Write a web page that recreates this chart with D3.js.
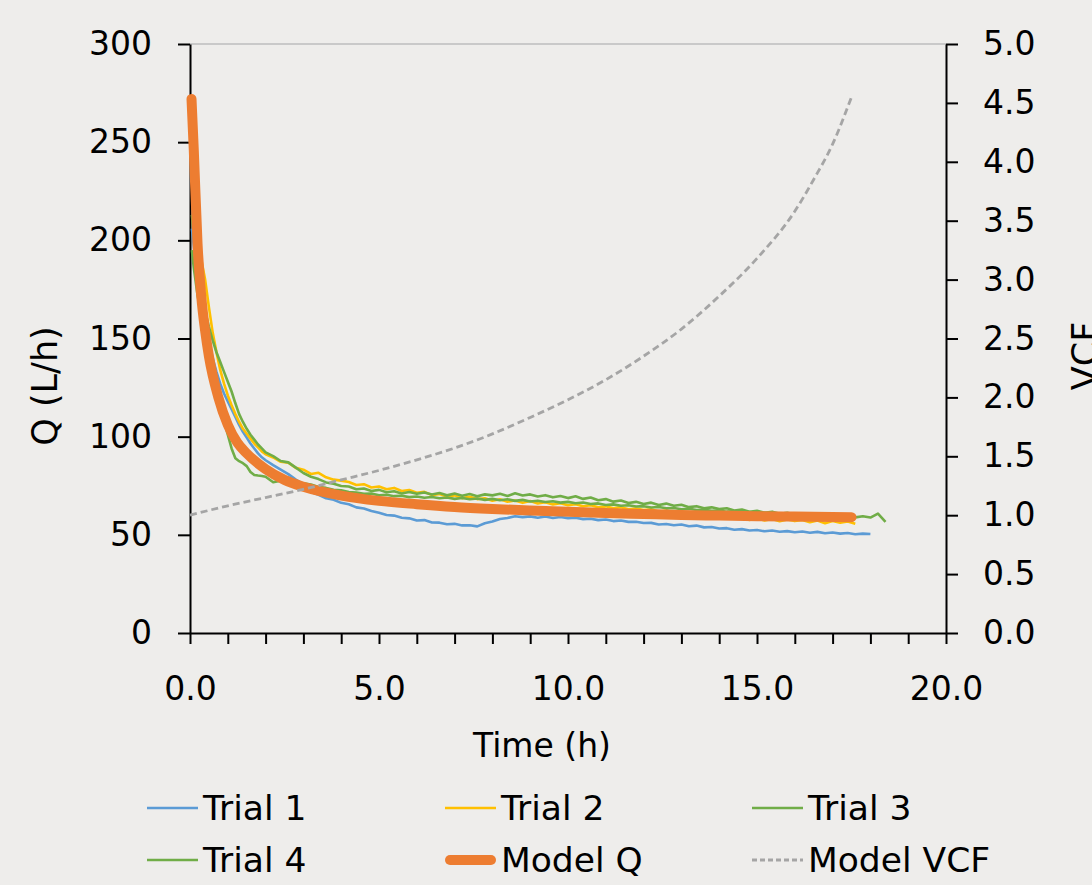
<!DOCTYPE html>
<html>
<head>
<meta charset="utf-8">
<script src="https://cdnjs.cloudflare.com/ajax/libs/d3/7.8.5/d3.min.js"></script>
<style>
  html, body { margin: 0; padding: 0; background: #eeedeb; }
  svg { display: block; font-family: "DejaVu Sans", Verdana, sans-serif; }
</style>
</head>
<body>
<svg id="chart" width="1092" height="885"></svg>
<script>
// ---------- DATA ----------
const trialTime = [0.05,0.1,0.15,0.2,0.3,0.4,0.5,0.6,0.7,0.8,0.9,1.0,1.1,1.2,1.3,1.4,1.5,1.6,1.7,1.8,1.9,2.0,
  2.2,2.4,2.6,2.8,3.0,3.2,3.4,3.6,3.8,4.0,
  4.2,4.4,4.6,4.8,5.0,5.2,5.4,5.6,5.8,6.0,
  6.2,6.4,6.6,6.8,7.0,7.2,7.4,7.6,7.8,8.0,
  8.2,8.4,8.6,8.8,9.0,9.2,9.4,9.6,9.8,10.0,
  10.2,10.4,10.6,10.8,11.0,11.2,11.4,11.6,11.8,12.0,
  12.2,12.4,12.6,12.8,13.0,13.2,13.4,13.6,13.8,14.0,
  14.2,14.4,14.6,14.8,15.0,15.2,15.4,15.6,15.8,16.0,
  16.2,16.4,16.6,16.8,17.0,17.2,17.4,17.6,17.8,18.0,
  18.2,18.4];

const trial1Q = [206,197,189,182,169,158,148,140,133,127,122,118,114,110,106,102.5,99.5,96.5,94,91.5,89.5,88,
  85.5,83.2,80.9,78.1,75.6,71.8,70.4,68.6,67.9,66.3,
  65.6,64.0,63.4,62.1,61.2,60.1,59.8,58.7,58.4,57.3,
  57.5,56.3,56.2,55.4,55.6,54.8,54.9,54.3,55.9,56.8,
  58.1,58.6,59.5,59.0,59.4,58.7,59.3,58.6,59.1,58.5,
  58.7,58.0,58.2,57.5,57.8,57.0,57.3,56.6,56.7,56.0,
  56.1,55.3,55.5,54.9,55.3,54.4,54.7,53.8,54.0,53.2,
  53.4,52.6,52.9,52.2,52.5,51.8,52.2,51.6,51.9,51.3,
  51.7,51.1,51.5,50.8,51.2,50.6,50.9,50.3,50.6,50.4];

const trial2Q = [232,219,208,199,190,180,166,153,143,134,127,121,116,111.5,107.5,104,101.5,99,96.5,94.5,92.5,91,
  89.4,87.2,86.8,84.1,83.2,81.0,81.6,79.3,78.1,77.6,
  76.9,75.4,75.8,74.1,74.6,73.2,73.9,72.3,72.8,71.4,
  71.9,70.2,70.8,69.5,70.1,68.7,69.4,68.2,68.6,67.4,
  68.1,66.9,67.5,66.3,67.2,66.0,66.6,65.5,66.1,65.1,
  65.6,64.6,65.1,64.0,64.5,63.5,64.1,63.0,63.4,62.6,
  63.0,61.8,62.4,61.2,61.6,60.3,60.8,59.6,59.9,59.0,
  59.4,58.2,58.9,57.6,58.5,57.3,58.1,56.9,57.8,57.0,
  57.6,56.4,57.3,55.9,57.1,56.2,56.8,55.7];

const trial3Q = [213,203,194,186,174,164,156,149,143,138,133,128,123,117,111.5,107.5,104,101,98.5,96,94,92,
  90.1,87.6,86.9,84.2,81.5,79.6,78.4,76.7,76.0,74.9,
  74.6,73.2,73.6,72.3,72.9,71.7,72.2,71.1,71.8,70.9,
  71.6,70.5,71.3,70.2,71.0,69.9,70.8,69.7,70.6,70.1,
  70.9,69.8,71.2,70.0,70.6,69.5,70.2,69.1,69.8,68.7,
  69.6,68.3,69.0,67.6,68.2,66.9,67.5,66.2,66.8,65.7,
  66.4,65.2,65.9,64.8,65.3,64.1,64.6,63.5,64.0,63.1,
  63.5,62.4,62.9,61.8,62.3,61.2,61.8,60.7,61.2,60.4,
  60.9,59.9,60.5,59.4,60.1,59.2,59.8,58.9,59.5,58.8,
  60.8,56.6];

const trial4Q = [195,186,179,172,162,152,143,134,126,117,108,101,94,89,87.5,86.5,85,82,80.5,80.2,80,79.6,
  76.8,77.6,78.3,77.4,76.2,75.6,74.4,73.9,73.0,72.7,
  71.8,71.6,70.9,71.0,70.2,70.4,69.7,69.9,69.2,69.5,
  68.9,69.3,68.6,69.0,68.3,68.8,68.1,68.5,67.8,68.3,
  67.6,68.1,67.3,67.8,67.0,67.4,66.7,67.1,66.4,66.8,
  66.1,66.5,65.7,66.0,65.2,65.5,64.8,65.1,64.4,64.6,
  63.9,64.2,63.5,63.7,63.0,63.3,62.6,62.8,62.2,62.4,
  61.8,62.0,61.4,61.6,61.0,61.2,60.6,60.9,60.3,60.5,
  60.1,60.3,59.8,60.0,59.6,59.8,59.4,59.6];

const modelTime = [0.04,0.1,0.2,0.3,0.4,0.5,0.75,1.0,1.25,1.5,2.0,2.5,3.0,4.0,5.0,6.0,7.0,8.0,9.0,10.0,11.0,12.0,13.0,14.0,15.0,16.0,17.0,17.5];
const modelQ = [272,246,198,171,154,141,120,106,97,91.5,83.5,78,74.5,70,67.3,65.6,64.2,63.2,62.4,61.7,61.1,60.6,60.1,59.8,59.5,59.3,59.1,59.0];

const vcfTime = [0,1,2,3,4,5,6,7,8,9,10,11,12,13,14,15,16,16.5,17,17.5];
const modelVCF = [1.0,1.08,1.15,1.22,1.30,1.38,1.47,1.57,1.69,1.83,1.98,2.15,2.35,2.58,2.86,3.18,3.58,3.85,4.15,4.55];

const qTicks = [0,50,100,150,200,250,300];
const vcfTicks = [0,0.5,1.0,1.5,2.0,2.5,3.0,3.5,4.0,4.5,5.0];
const timeTicks = [0,1,2,3,4,5,6,7,8,9,10,11,12,13,14,15,16,17,18,19,20];
const timeLabels = [0,5,10,15,20];

const seriesNames = ["Trial 1","Trial 2","Trial 3","Trial 4","Model Q","Model VCF"];
const seriesColors = ["#5B9BD5","#FFC000","#70AD47","#70AD47","#ED7D31","#A5A5A5"];

// ---------- CHART ----------
const svg = d3.select("#chart");
const FONT = 33;
const TITLE_FONT = 35;
const LEGEND_FONT = 34.5;

svg.append("rect").attr("width",1092).attr("height",885).attr("fill","#eeedeb");

const x = d3.scaleLinear().domain([0,20]).range([190,946]);
const y = d3.scaleLinear().domain([0,300]).range([633,44]);
const y2 = d3.scaleLinear().domain([0,5]).range([633,44]);

// top border line
svg.append("line").attr("x1",x(0)).attr("x2",x(20)).attr("y1",y(300)).attr("y2",y(300))
  .attr("stroke","#c9c9c9").attr("stroke-width",2);

// axes
function styleAxis(g){
  g.selectAll("path.domain").attr("stroke","#000").attr("stroke-width",2);
  g.selectAll(".tick line").attr("stroke","#000").attr("stroke-width",2);
  g.selectAll("text").attr("fill","#000").attr("font-size",FONT)
    .attr("font-family",'"DejaVu Sans", Verdana, sans-serif');
}

const gL = svg.append("g").attr("transform",`translate(${x(0)},0)`)
  .call(d3.axisLeft(y).tickValues(qTicks).tickSize(12).tickSizeOuter(0).tickPadding(26).tickFormat(d3.format("d")));
styleAxis(gL);

const gR = svg.append("g").attr("transform",`translate(${x(20)},0)`)
  .call(d3.axisRight(y2).tickValues(vcfTicks).tickSize(12).tickSizeOuter(0).tickPadding(25).tickFormat(d3.format(".1f")));
styleAxis(gR);

const gB = svg.append("g").attr("transform",`translate(0,${y(0)})`)
  .call(d3.axisBottom(x).tickValues(timeTicks).tickSize(11).tickSizeOuter(0).tickPadding(33)
    .tickFormat(d => timeLabels.includes(d) ? d3.format(".1f")(d) : ""));
styleAxis(gB);

// axis titles
svg.append("text").attr("x",542).attr("y",757).attr("text-anchor","middle")
  .attr("font-size",FONT).attr("fill","#000").text("Time (h)");
svg.append("text").attr("transform","translate(57,386) rotate(-90)").attr("text-anchor","middle")
  .attr("font-size",TITLE_FONT).attr("fill","#000").text("Q (L/h)");
svg.append("text").attr("transform","translate(1097,356) rotate(-90)").attr("text-anchor","middle")
  .attr("font-size",TITLE_FONT).attr("fill","#000").text("VCF");

// lines
const plot = svg.append("g");
const trialLine = d3.line().x(d => x(d[0])).y(d => y(d[1]));
const trials = [trial1Q, trial2Q, trial3Q, trial4Q];
trials.forEach((arr, i) => {
  const pts = arr.map((q, k) => [trialTime[k], q]);
  plot.append("path").datum(pts).attr("d", trialLine)
    .attr("fill","none").attr("stroke",seriesColors[i]).attr("stroke-width",2.6)
    .attr("stroke-linejoin","round");
});

const modelLine = d3.line().x(d => x(d[0])).y(d => y(d[1])).curve(d3.curveMonotoneX);
plot.append("path").datum(modelQ.map((q,k)=>[modelTime[k],q])).attr("d",modelLine)
  .attr("fill","none").attr("stroke",seriesColors[4]).attr("stroke-width",10)
  .attr("stroke-linecap","round").attr("stroke-linejoin","round");

const vcfLine = d3.line().x(d => x(d[0])).y(d => y2(d[1])).curve(d3.curveMonotoneX);
plot.append("path").datum(modelVCF.map((v,k)=>[vcfTime[k],v])).attr("d",vcfLine)
  .attr("fill","none").attr("stroke",seriesColors[5]).attr("stroke-width",2.8)
  .attr("stroke-dasharray","7,4");

// legend
const legendCols = [147, 445, 752];
const legendRows = [808, 860];
seriesNames.forEach((name, i) => {
  const cx = legendCols[i % 3], cy = legendRows[Math.floor(i / 3)];
  const g = svg.append("g");
  const ln = g.append("line").attr("x1",cx).attr("x2",cx+51).attr("y1",cy).attr("y2",cy)
    .attr("stroke",seriesColors[i]);
  if (i === 4) ln.attr("stroke-width",10).attr("stroke-linecap","round").attr("x1",cx+5).attr("x2",cx+46);
  else if (i === 5) ln.attr("stroke-width",2.8).attr("stroke-dasharray","5,3");
  else ln.attr("stroke-width",2.6);
  g.append("text").attr("x",cx+56).attr("y",cy).attr("dy","0.36em")
    .attr("font-size",LEGEND_FONT).attr("fill","#000").text(name);
});
</script>
</body>
</html>
